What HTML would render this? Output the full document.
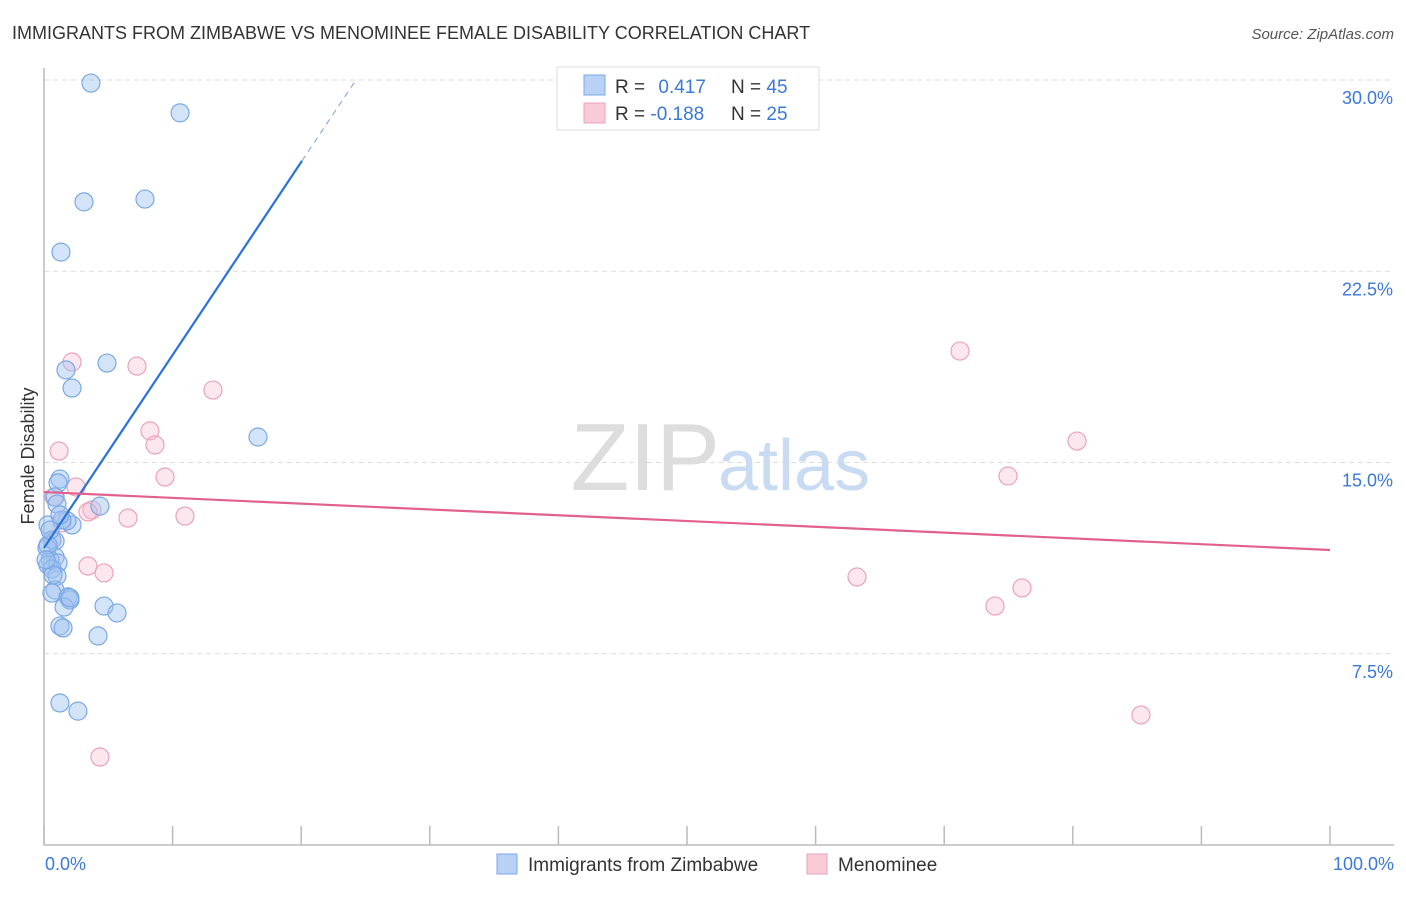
<!DOCTYPE html>
<html><head><meta charset="utf-8"><style>
body{margin:0;background:#fff;font-family:"Liberation Sans",sans-serif;}
svg text{font-family:"Liberation Sans",sans-serif;}
</style></head><body>
<svg id="chart" width="1406" height="892" viewBox="0 0 1406 892">
<text x="12" y="39" font-size="18" fill="#333">IMMIGRANTS FROM ZIMBABWE VS MENOMINEE FEMALE DISABILITY CORRELATION CHART</text>
<text x="1394" y="39" font-size="15" fill="#555" font-style="italic" text-anchor="end">Source: ZipAtlas.com</text>
<g id="grid"></g>
<text x="720" y="490" font-size="96" fill="#ddd" text-anchor="end" font-family="Liberation Serif">ZIP</text>
<text x="718" y="490" font-size="72" fill="#c8dbf3">atlas</text>
<line x1="44" y1="68" x2="44" y2="845" stroke="#bbb" stroke-width="1.5"/>
<line x1="44" y1="845" x2="1394" y2="845" stroke="#bbb" stroke-width="1.5"/>
<g id="xticks"></g>
<g id="yticks"></g>
<text x="45" y="870" font-size="18" fill="#3b78d8">0.0%</text>
<text x="1394" y="870" font-size="18" fill="#3b78d8" text-anchor="end">100.0%</text>
<text transform="translate(34,456) rotate(-90)" font-size="18" fill="#333" text-anchor="middle">Female Disability</text>
<g id="pts"></g>
<g id="lines"></g>
<g>
<rect x="557" y="67" width="262" height="63" fill="#fff" stroke="#ddd"/>
<rect x="584" y="75" width="21" height="20" fill="#b9d1f5" stroke="#7aa8e6"/>
<rect x="584" y="103" width="21" height="20" fill="#f9cbd9" stroke="#eba2bb"/>
<text x="615" y="93" font-size="19" fill="#333">R = <tspan fill="#3b78d8" dx="8">0.417</tspan></text>
<text x="731" y="93" font-size="19" fill="#333">N = <tspan fill="#3b78d8">45</tspan></text>
<text x="615" y="120" font-size="19" fill="#333">R = <tspan fill="#3b78d8">-0.188</tspan></text>
<text x="731" y="120" font-size="19" fill="#333">N = <tspan fill="#3b78d8">25</tspan></text>
</g>
<g>
<rect x="497" y="854" width="20" height="20" fill="#b9d1f5" stroke="#7aa8e6"/>
<text x="528" y="871" font-size="19" fill="#333">Immigrants from Zimbabwe</text>
<rect x="807" y="854" width="20" height="20" fill="#f9cbd9" stroke="#eba2bb"/>
<text x="838" y="871" font-size="19" fill="#333">Menominee</text>
</g>
</svg>
<script>
const yTicks=[7.5,15,22.5,30];
const yTickLabels=["7.5%","15.0%","22.5%","30.0%"];
const xTickVals=[0,10,20,30,40,50,60,70,80,90,100];
const blueX=[3.65,10.58,3.11,7.85,1.32,4.90,1.71,2.18,16.64,1.24,1.09,0.86,1.01,4.35,2.18,1.79,0.31,1.40,0.62,0.86,0.23,0.86,0.47,0.31,1.09,0.62,1.01,0.86,0.62,1.87,2.02,1.56,4.67,5.68,1.24,1.48,4.20,1.24,2.64,0.31,0.47,1.24,0.70,0.16,2.02];
const blueY=[29.88,28.71,25.22,25.33,23.25,18.90,18.63,17.92,16.0,14.35,14.2,13.65,13.37,13.29,12.55,12.71,12.55,12.75,11.96,11.92,11.65,11.29,11.18,10.98,11.06,10.82,10.55,10.0,9.88,9.73,9.61,9.33,9.37,9.10,8.59,8.51,8.20,5.57,5.25,11.76,12.35,12.94,10.59,11.18,9.69];
const pinkX=[2.18,7.23,13.14,8.24,8.63,1.17,9.41,2.49,0.78,3.73,3.42,6.53,10.96,1.40,3.42,4.67,4.35,71.23,80.33,74.96,63.22,76.05,73.95,85.30,0.62];
const pinkY=[18.94,18.78,17.84,16.24,15.69,15.45,14.43,14.04,13.65,13.14,13.06,12.82,12.90,12.63,10.94,10.67,3.45,19.37,15.84,14.47,10.51,10.08,9.37,5.10,11.96];
const blueTrend=[11.65,0.7566];
const pinkTrend=[13.84,-0.0227];
const NS="http://www.w3.org/2000/svg";
const X=p=>44+p*12.86;
const Y=v=>845-v*25.5;
function mk(tag,attrs,parent){const e=document.createElementNS(NS,tag);for(const k in attrs)e.setAttribute(k,attrs[k]);parent.appendChild(e);return e;}
const grid=document.getElementById('grid'),yt=document.getElementById('yticks');
yTicks.forEach((v,i)=>{
 const l=mk('line',{x1:44,x2:1394,y1:Y(v),y2:Y(v),stroke:'#ddd','stroke-dasharray':'5,4'},grid);
 
 
 const t=mk('text',{x:1393,y:Y(v)+24,'font-size':18,fill:'#3b78d8','text-anchor':'end'},yt);
 t.textContent=yTickLabels[i];
 
 
});
const xt=document.getElementById('xticks');
xTickVals.forEach(p=>{
 const l=mk('line',{x1:X(p),x2:X(p),y1:826,y2:845,stroke:'#bbb','stroke-width':1.5},xt);
 
 
});
const pts=document.getElementById('pts');
pinkX.forEach((p,i)=>{
 const c=mk('circle',{cx:X(p),cy:Y(pinkY[i]),r:9,fill:'rgba(248,185,205,0.35)',stroke:'#eba2bb','stroke-width':1.2},pts);
 
 
});
blueX.forEach((p,i)=>{
 const c=mk('circle',{cx:X(p),cy:Y(blueY[i]),r:9,fill:'rgba(160,195,240,0.45)',stroke:'#7aa8e6','stroke-width':1.2},pts);
 
 
});
const lines=document.getElementById('lines');
const bl=mk('line',{x1:X(0),y1:Y(blueTrend[0]),x2:X(20.06),y2:Y(blueTrend[0]+blueTrend[1]*20.06),stroke:'#2b72d6','stroke-width':2.2},lines);


const bd=mk('line',{x1:X(20.06),y1:Y(blueTrend[0]+blueTrend[1]*20.06),x2:X(24.3),y2:Y(blueTrend[0]+blueTrend[1]*24.3),stroke:'#7aa0dc','stroke-width':1,'stroke-dasharray':'6,5'},lines);


const pl=mk('line',{x1:X(0),y1:Y(pinkTrend[0]),x2:X(100),y2:Y(pinkTrend[0]+pinkTrend[1]*100),stroke:'#e2608e','stroke-width':2.2},lines);


</script>
</body></html>
